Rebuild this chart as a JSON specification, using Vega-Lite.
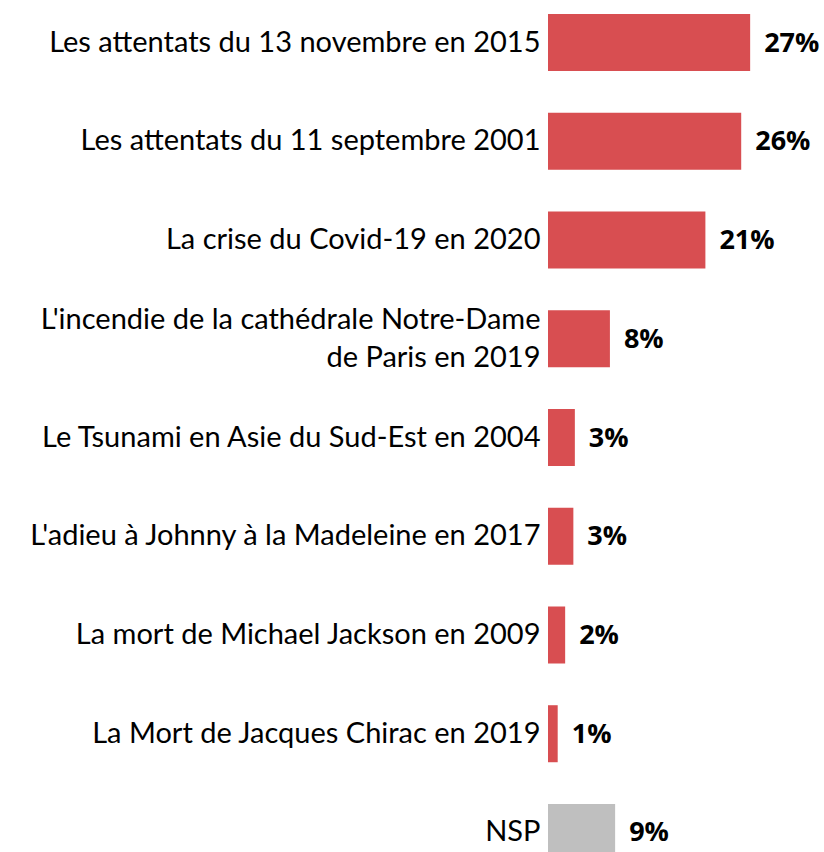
{
  "$schema": "https://vega.github.io/schema/vega-lite/v6.json",
  "autosize": {"type": "none"},
  "padding": {"left": 548, "top": 0, "right": 0, "bottom": 0},
  "width": 276,
  "height": 875,
  "background": "white",
  "config": {"view": {"stroke": null}},
  "data": {
    "values": [
      {"event": "Les attentats du 13 novembre en 2015", "value": 27.1, "label": "27%", "group": "event"},
      {"event": "Les attentats du 11 septembre 2001", "value": 25.9, "label": "26%", "group": "event"},
      {"event": "La crise du Covid-19 en 2020", "value": 21.1, "label": "21%", "group": "event"},
      {"event": "L'incendie de la cathédrale Notre-Dame|de Paris en 2019", "value": 8.3, "label": "8%", "group": "event"},
      {"event": "Le Tsunami en Asie du Sud-Est en 2004", "value": 3.6, "label": "3%", "group": "event"},
      {"event": "L'adieu à Johnny à la Madeleine en 2017", "value": 3.4, "label": "3%", "group": "event"},
      {"event": "La mort de Michael Jackson en 2009", "value": 2.3, "label": "2%", "group": "event"},
      {"event": "La Mort de Jacques Chirac en 2019", "value": 1.3, "label": "1%", "group": "event"},
      {"event": "NSP", "value": 9.0, "label": "9%", "group": "nsp"}
    ]
  },
  "encoding": {
    "y": {
      "field": "event",
      "type": "nominal",
      "sort": null,
      "scale": {"paddingInner": 0.4225, "paddingOuter": 0.142},
      "axis": {
        "title": null,
        "domain": false,
        "ticks": false,
        "labelPadding": 8,
        "labelFont": "Lato",
        "labelFontSize": 29,
        "labelColor": "#000000",
        "labelLimit": 0,
        "labelLineHeight": 38,
        "labelOffset": {"condition": {"test": "indexof(datum.value, '|') >= 0", "value": -19}, "value": 0},
        "labelExpr": "split(datum.value, '|')"
      }
    },
    "x": {
      "field": "value",
      "type": "quantitative",
      "scale": {"domain": [0, 37]},
      "axis": null
    }
  },
  "layer": [
    {
      "mark": {"type": "bar"},
      "encoding": {
        "color": {
          "field": "group",
          "type": "nominal",
          "scale": {"domain": ["event", "nsp"], "range": ["#D84E51", "#BFBFBF"]},
          "legend": null
        }
      }
    },
    {
      "mark": {"type": "text", "align": "left", "baseline": "middle", "dx": 14, "dy": 1, "font": "Open Sans", "fontSize": 27, "fontWeight": "bold", "color": "#000000"},
      "encoding": {"text": {"field": "label"}}
    }
  ]
}
